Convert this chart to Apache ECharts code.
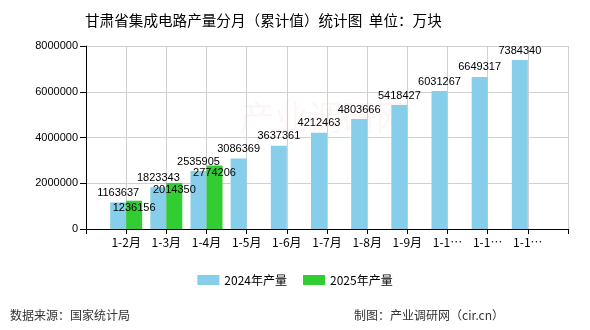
<!DOCTYPE html>
<html>
<head>
<meta charset="utf-8">
<script src="https://cdn.jsdelivr.net/npm/echarts@6/dist/echarts.min.js"></script>
<style>
html,body{margin:0;padding:0;background:#fff;}
#chart{width:590px;height:330px;}
</style>
</head>
<body>
<div id="chart"></div>
<script>
// Months shown on the category axis (padded with an empty slot at each end)
var months = ['', '1-2月', '1-3月', '1-4月', '1-5月', '1-6月', '1-7月', '1-8月', '1-9月', '1-10月', '1-11月', '1-12月', ''];
// Cumulative output, 万块
var output2024 = [null, 1163637, 1823343, 2535905, 3086369, 3637361, 4212463, 4803666, 5418427, 6031267, 6649317, 7384340, null];
var output2025 = [null, 1236156, 2014350, 2774206, null, null, null, null, null, null, null, null, null];
var yTicks = [0, 2000000, 4000000, 6000000, 8000000];

var font = 'Liberation Sans, Noto Sans CJK SC, sans-serif';
var chart = echarts.init(document.getElementById('chart'), null, {renderer: 'canvas'});
chart.setOption({
  animation: false,
  backgroundColor: '#fff',
  textStyle: {fontFamily: font},
  title: {
    text: '甘肃省集成电路产量分月（累计值）统计图  单位：万块',
    left: 80, top: 8,
    textStyle: {fontSize: 14.6, fontWeight: 'normal', color: '#000', fontFamily: 'Noto Sans CJK SC'}
  },
  legend: {
    top: 269, left: 'center',
    itemWidth: 22, itemHeight: 10, itemGap: 16,
    icon: 'rect',
    textStyle: {fontSize: 12, color: '#000', fontFamily: 'Noto Sans CJK SC'},
    data: ['2024年产量', '2025年产量']
  },
  grid: {left: 86, right: 22, top: 46, bottom: 101, containLabel: false},
  xAxis: {
    type: 'category',
    data: months,
    boundaryGap: false,
    axisLine: {lineStyle: {color: '#000', width: 1}},
    axisTick: {show: true, length: 5, lineStyle: {color: '#000'}},
    splitLine: {show: true, lineStyle: {color: '#d0d0d0'}},
    axisLabel: {
      interval: 0, fontSize: 12, color: '#000', margin: 7,
      width: 34, overflow: 'truncate', ellipsis: '…',
      fontFamily: 'Noto Sans CJK SC'
    }
  },
  yAxis: {
    type: 'value',
    min: yTicks[0], max: yTicks[yTicks.length - 1], interval: yTicks[1] - yTicks[0],
    axisLine: {show: true, lineStyle: {color: '#000'}},
    axisTick: {show: true, length: 6, lineStyle: {color: '#000'}},
    splitLine: {lineStyle: {color: '#d0d0d0'}},
    axisLabel: {fontSize: 11, color: '#000', margin: 8, formatter: function (v) { return String(v); }}
  },
  series: [
    {
      name: '2024年产量', type: 'bar', data: output2024,
      barWidth: 16, barGap: '0%',
      itemStyle: {color: '#87CEEB'},
      label: {show: true, position: 'top', distance: 4, fontSize: 11, color: '#000'}
    },
    {
      name: '2025年产量', type: 'bar', data: output2025,
      barWidth: 16, barGap: '0%',
      itemStyle: {color: '#32CD32'},
      label: {show: true, position: 'insideTop', distance: 2, fontSize: 11, color: '#000'}
    }
  ],
  graphic: [
    {type: 'text', left: 10, top: 309, style: {text: '数据来源：国家统计局', font: '12px Noto Sans CJK SC', fill: '#333'}},
    {type: 'text', right: 86, top: 309, style: {text: '制图：产业调研网（cir.cn）', font: '12px Noto Sans CJK SC', fill: '#333'}},
    {type: 'text', left: 240, top: 100, z: -1, style: {text: '产业调研网', font: '34px Noto Sans CJK SC', fill: 'rgba(240,180,170,0.12)'}}
  ]
});
</script>
</body>
</html>
